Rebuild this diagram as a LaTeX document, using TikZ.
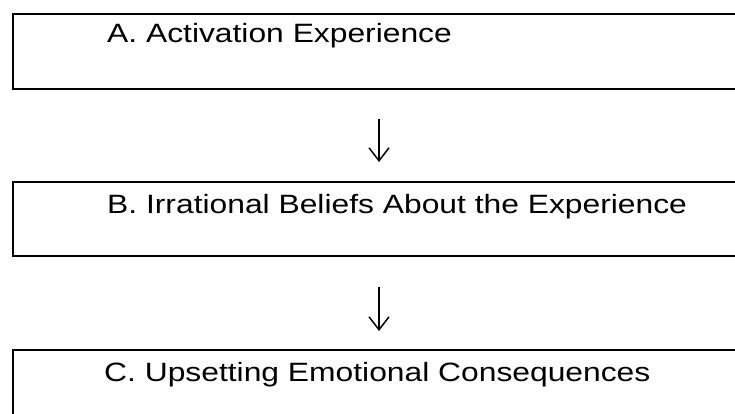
\documentclass[tikz,border=0pt]{standalone}
\usepackage{fontspec}
\newfontfamily\boxfont[FakeStretch=1.2]{Liberation Sans}
\usetikzlibrary{arrows.meta}
\begin{document}
\begin{tikzpicture}[x=1pt,y=-1pt,
  stepbox/.style={draw=black,line width=2pt,anchor=north west,minimum width=760pt,inner sep=0pt},
  label/.style={anchor=base west,inner sep=0pt,font=\boxfont\fontsize{26.5}{30}\selectfont},
  arr/.style={line width=1.5pt,-{Straight Barb[length=13pt,width=20pt,line width=1.5pt]}}]
\useasboundingbox (0,0) rectangle (735,414);
\clip (0,0) rectangle (735,414);
\fill[white] (0,0) rectangle (735,414);
\node[stepbox,minimum height=75pt] (a) at (12,13) {};
\node[stepbox,minimum height=74pt] (b) at (12,181) {};
\node[stepbox,minimum height=100pt] (c) at (12,349) {};
\node[label] (ta) at (107,42.5) {A. Activation Experience};
\node[label] (tb) at (107,213) {B. Irrational Beliefs About the Experience};
\node[label] (tc) at (104,381) {C. Upsetting Emotional Consequences};
\coordinate (a1) at (379,119);
\coordinate (a2) at (379,162);
\coordinate (b1) at (379,287);
\coordinate (b2) at (379,331);
\draw[arr] (a1) -- (a2);
\draw[arr] (b1) -- (b2);
\end{tikzpicture}
\end{document}
